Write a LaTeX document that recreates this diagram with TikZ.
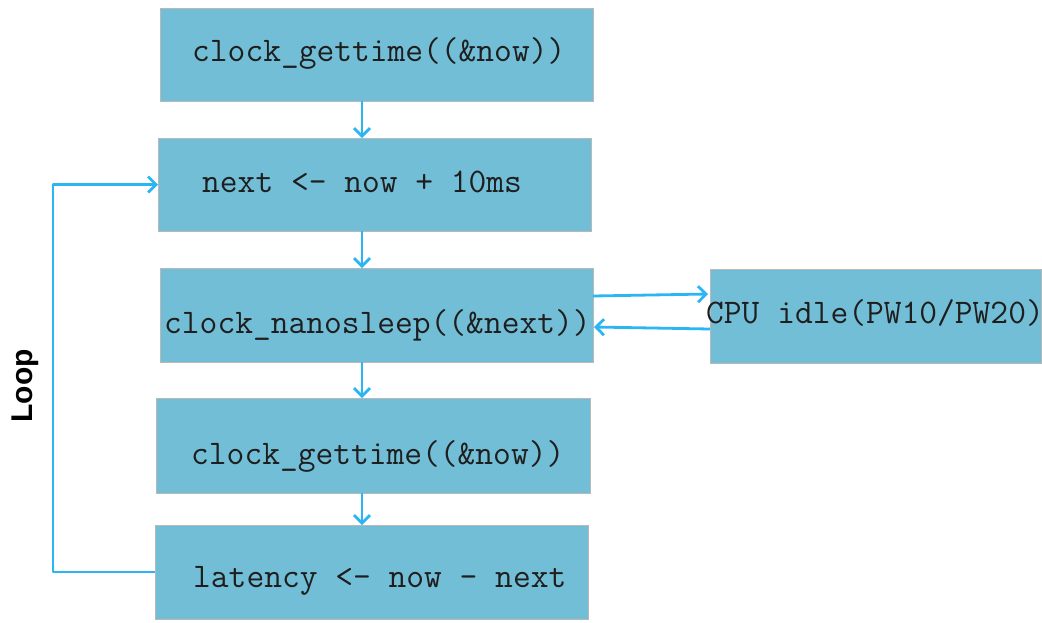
\documentclass[tikz,border=0pt]{standalone}
\usepackage{fontspec}
\setmainfont{Liberation Sans}
\usetikzlibrary{arrows.meta,calc}
\definecolor{boxfill}{HTML}{72BED7}
\definecolor{arrowblue}{HTML}{2BB5F2}
\definecolor{boxline}{HTML}{B8B8B8}
\definecolor{txt}{HTML}{1E1E1E}
\begin{document}
\begin{tikzpicture}[x=1pt,y=-1pt,
  box/.style={rectangle,fill=boxfill,draw=boxline,line width=0.6pt,anchor=north west,inner sep=0pt,outer sep=0pt},
  code/.style={anchor=base west,inner sep=0pt,text=txt,font=\ttfamily\fontsize{34.5}{41}\selectfont},
  conn/.style={draw=arrowblue,line width=2.8pt,line join=round,-{Straight Barb[length=8pt,width=16pt]}},
  looplabel/.style={rotate=90,inner sep=0pt,text=black,font=\bfseries\fontsize{30}{36}\selectfont}
]
\useasboundingbox (0,0) rectangle (1042,622);
% boxes
\node[box,minimum width=433pt,minimum height=93pt] (b1) at (160,8) {};
\node[box,minimum width=433pt,minimum height=93pt] (b2) at (158,138) {};
\node[box,minimum width=433pt,minimum height=94pt] (b3) at (160,268) {};
\node[box,minimum width=434pt,minimum height=95pt] (b4) at (156,398) {};
\node[box,minimum width=433pt,minimum height=94pt] (b5) at (155,525) {};
\node[box,minimum width=331pt,minimum height=94pt] (cpu) at (710,269) {};
% texts
\node[code] (t1) at (192,61) {clock\_gettime((\&now))};
\node[code] (t2) at (202,192) {next <- now + 10ms};
\node[code] (t3) at (164,333) {clock\_nanosleep((\&next))};
\node[code] (t4) at (191,464) {clock\_gettime((\&now))};
\node[code] (t5) at (193,587) {latency <- now - next};
\node[code] (t6) at (706,323) {CPU idle(PW10/PW20)};
\node[looplabel] (loop) at (25,386) {Loop};
% connectors
\coordinate (axis) at (362,0);
\coordinate (loopc) at (53,572);
\draw[conn] (b1.south -| axis) -- (b2.north -| axis);
\draw[conn] (b2.south -| axis) -- (b3.north -| axis);
\draw[conn] (b3.south -| axis) -- (b4.north -| axis);
\draw[conn] (b4.south -| axis) -- (b5.north -| axis);
\draw[conn] ([yshift=-28pt]b3.north east) -- ([yshift=-25pt,xshift=-2pt]cpu.north west);
\draw[conn] ([yshift=-60pt]cpu.north west) -- ([yshift=-59pt,xshift=1pt]b3.north east);
\draw[conn] (b5.west) -- (loopc) |- (b2.west);
\end{tikzpicture}
\end{document}
